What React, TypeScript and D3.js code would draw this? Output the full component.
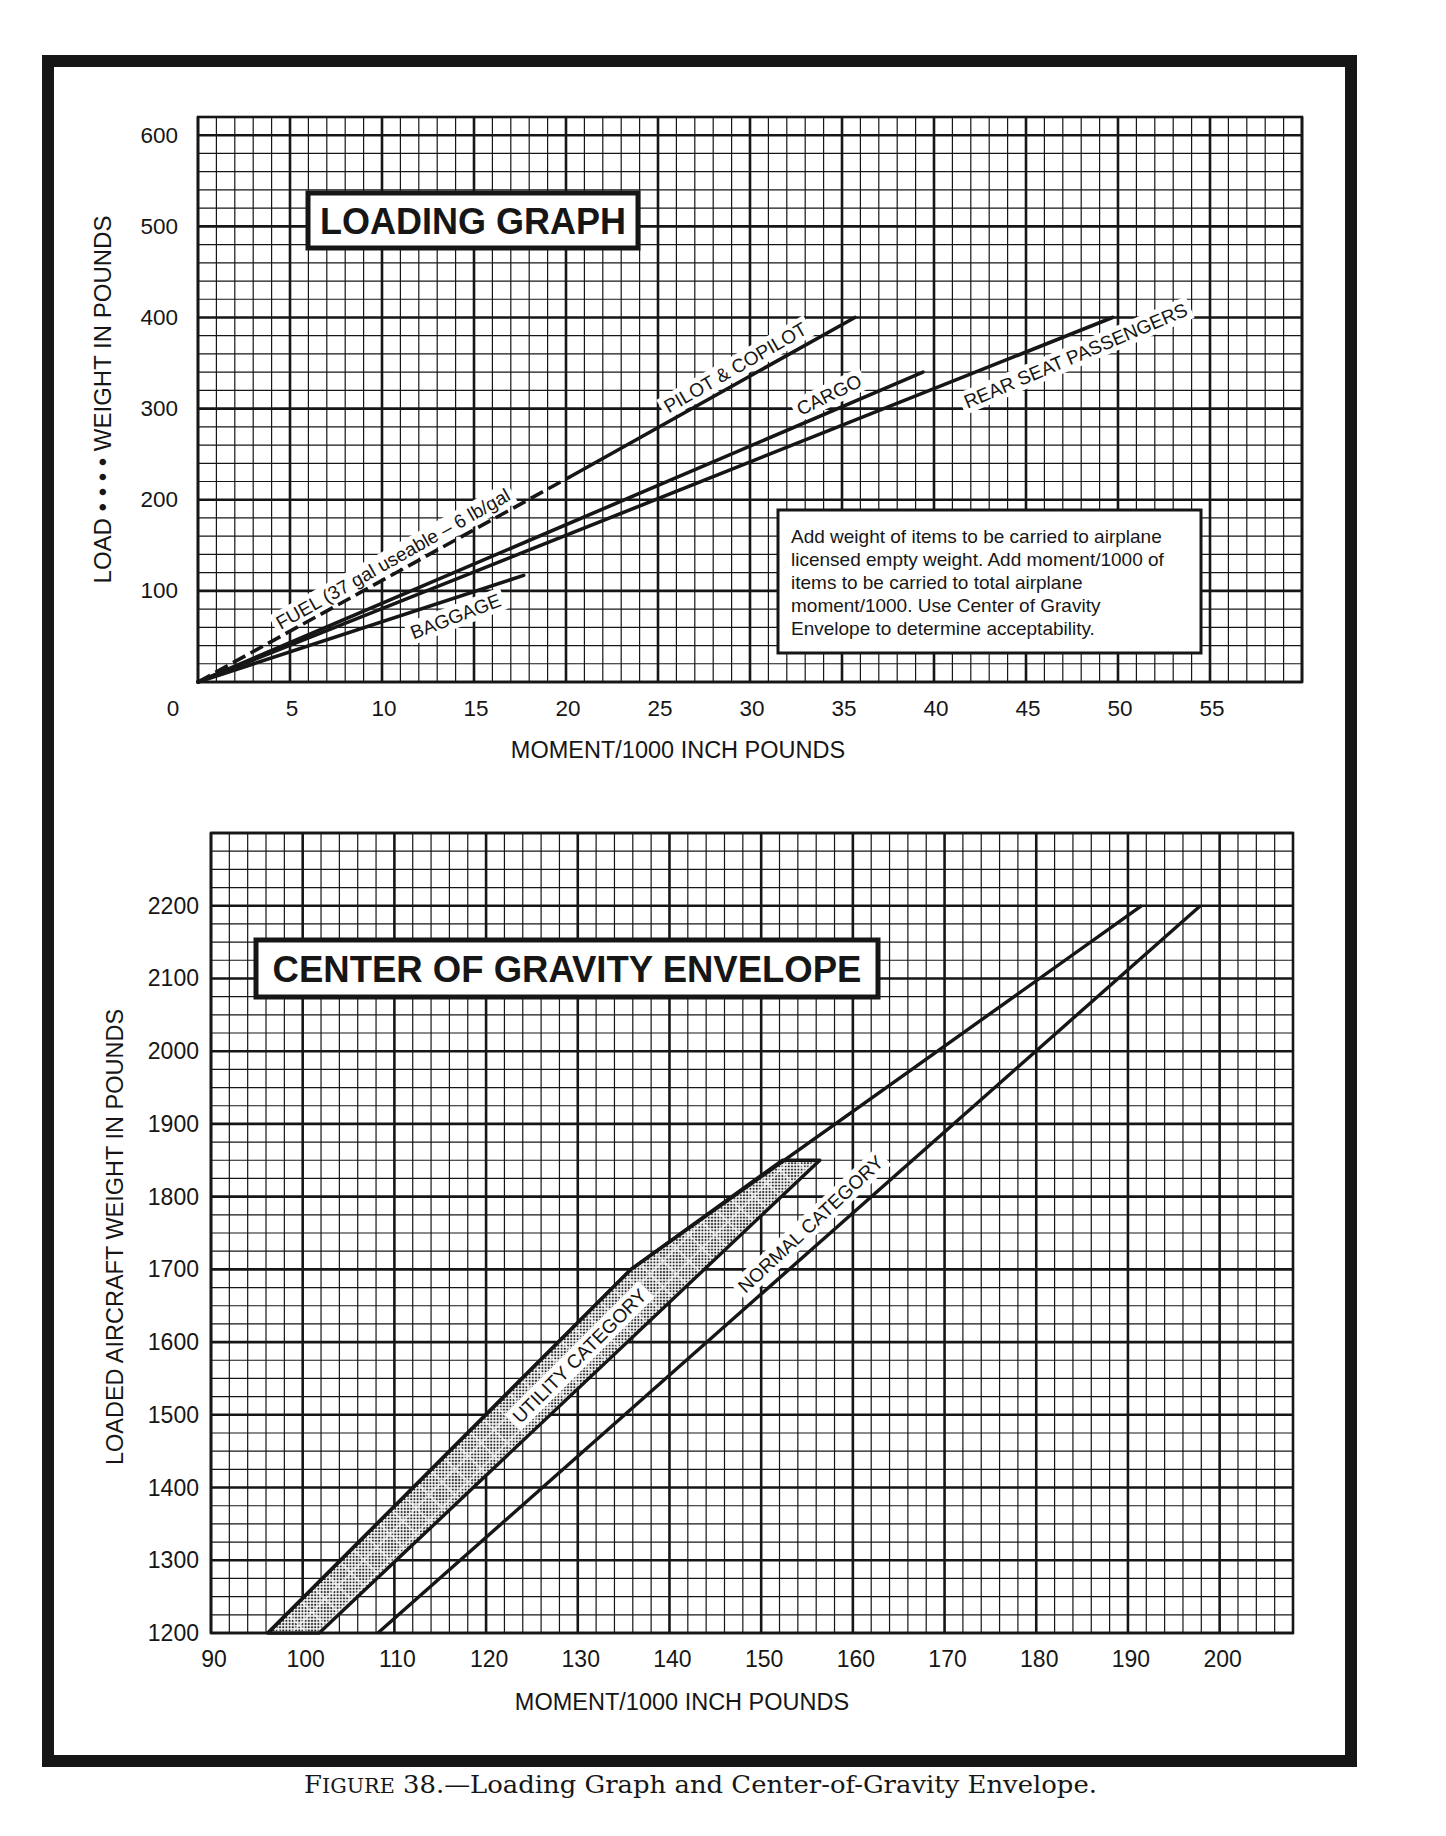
import { useLayoutEffect, useRef, useState } from "react";
import * as d3 from "d3";

// ---- Loading graph data (moment/1000 in-lb, weight lb) ----
const loadTicksX = [0, 5, 10, 15, 20, 25, 30, 35, 40, 45, 50, 55];
const loadTicksY = [100, 200, 300, 400, 500, 600];
const fuelLine: [number, number][] = [[0, 0], [20.2, 225]];
const pilotLine: [number, number][] = [[20.2, 225], [35.7, 400]];
const cargoLine: [number, number][] = [[0, 0], [39.4, 340]];
const rearSeatLine: [number, number][] = [[0, 0], [49.7, 400]];
const baggageLine: [number, number][] = [[0, 0], [17.7, 117]];

// ---- CG envelope data ----
const cgTicksX = [90, 100, 110, 120, 130, 140, 150, 160, 170, 180, 190, 200];
const cgTicksY = [1200, 1300, 1400, 1500, 1600, 1700, 1800, 1900, 2000, 2100, 2200];
const forwardLimit: [number, number][] = [[96.2, 1200], [135.8, 1700], [191.5, 2200]];
const normalAftLimit: [number, number][] = [[108.2, 1200], [197.9, 2200]];
const utilityEnvelope: [number, number][] = [
  [96.2, 1200], [135.8, 1700], [152.3, 1850], [156.4, 1850], [101.8, 1200],
];

const infoLines = [
  "Add weight of items to be carried to airplane",
  "licensed empty weight. Add moment/1000 of",
  "items to be carried to total airplane",
  "moment/1000. Use Center of Gravity",
  "Envelope to determine acceptability.",
];

const SANS = "'Liberation Sans', Arial, Helvetica, sans-serif";
const INK = "#161616";

const lx = d3.scaleLinear().domain([0, 60]).range([198, 1302]);
const ly = d3.scaleLinear().domain([0, 620]).range([682, 117]);
const cx = d3.scaleLinear().domain([90, 208]).range([211, 1293]);
const cy = d3.scaleLinear().domain([1200, 2300]).range([1633, 833]);

type Scale = d3.ScaleLinear<number, number>;

function Grid({ x, y, xStep, xMajor, yStep, yMajor }: {
  x: Scale; y: Scale; xStep: number; xMajor: number; yStep: number; yMajor: number;
}) {
  const [x0, x1] = x.domain();
  const [y0, y1] = y.domain();
  const xs = d3.range(x0, x1 + 1e-6, xStep);
  const ys = d3.range(y0, y1 + 1e-6, yStep);
  const isMajor = (v: number, m: number) => Math.abs(v / m - Math.round(v / m)) < 1e-6;
  return (
    <g>
      {xs.map(v => (
        <line key={"x" + v} x1={x(v)} x2={x(v)} y1={y(y0)} y2={y(y1)}
          stroke={INK} strokeWidth={isMajor(v, xMajor) ? 2.6 : 1.2} />
      ))}
      {ys.map(v => (
        <line key={"y" + v} x1={x(x0)} x2={x(x1)} y1={y(v)} y2={y(v)}
          stroke={INK} strokeWidth={isMajor(v, yMajor) ? 2.6 : 1.2} />
      ))}
      <rect x={x(x0)} y={y(y1)} width={x(x1) - x(x0)} height={y(y0) - y(y1)}
        fill="none" stroke={INK} strokeWidth={2.6} />
    </g>
  );
}

function Tag({ x, y, angle, text, size = 19 }: {
  x: number; y: number; angle: number; text: string; size?: number;
}) {
  const ref = useRef<SVGTextElement | null>(null);
  const [box, setBox] = useState<DOMRect | null>(null);
  useLayoutEffect(() => {
    if (ref.current) setBox(ref.current.getBBox());
  }, [text]);
  return (
    <g transform={`translate(${x},${y}) rotate(${-angle})`}>
      {box && (
        <rect x={box.x - 4} y={box.y - 1} width={box.width + 8} height={box.height + 2} fill="white" />
      )}
      <text ref={ref} textAnchor="middle" dominantBaseline="central"
        fontFamily={SANS} fontSize={size} fill={INK}>{text}</text>
    </g>
  );
}

function TitleBox({ x0, y0, x1, y1, text, size }: {
  x0: number; y0: number; x1: number; y1: number; text: string; size: number;
}) {
  return (
    <g>
      <rect x={x0} y={y0} width={x1 - x0} height={y1 - y0} fill="white" stroke={INK} strokeWidth={5} />
      <text x={(x0 + x1) / 2} y={(y0 + y1) / 2 + 1} textAnchor="middle" dominantBaseline="central"
        fontFamily={SANS} fontWeight="bold" fontSize={size} fill={INK}>{text}</text>
    </g>
  );
}

export default function App() {
  const loadPath = d3.line<[number, number]>().x(d => lx(d[0])).y(d => ly(d[1]));
  const cgPath = d3.line<[number, number]>().x(d => cx(d[0])).y(d => cy(d[1]));
  const envelopeD = (cgPath(utilityEnvelope) ?? "") + "Z";

  return (
    <svg width={1446} height={1836} style={{ position: "absolute", left: 0, top: 0, background: "white" }}>
      <defs>
        <pattern id="stipple" width={3.2} height={3.2} patternUnits="userSpaceOnUse">
          <rect width={3.2} height={3.2} fill="#f4f4f4" />
          <circle cx={1.6} cy={1.6} r={1.05} fill="#262626" />
        </pattern>
        <pattern id="cross" width={26} height={26} patternUnits="userSpaceOnUse">
          <path d="M0,0 L26,26 M26,0 L0,26" stroke="white" strokeOpacity={0.55} strokeWidth={2} />
        </pattern>
      </defs>
      <rect width={1446} height={1836} fill="white" />

      {/* outer frame */}
      <rect x={48} y={61} width={1303} height={1700} fill="none" stroke={INK} strokeWidth={12} />

      {/* ===== LOADING GRAPH ===== */}
      <Grid x={lx} y={ly} xStep={1} xMajor={5} yStep={20} yMajor={100} />

      {loadTicksY.map(v => (
        <text key={v} x={178} y={ly(v)} textAnchor="end" dominantBaseline="central"
          fontFamily={SANS} fontSize={22.5} fill={INK}>{v}</text>
      ))}
      {loadTicksX.map(v => (
        <text key={v} x={v === 0 ? lx(v) - 25 : lx(v) + 2} y={708} textAnchor="middle" dominantBaseline="central"
          fontFamily={SANS} fontSize={22.5} fill={INK}>{v}</text>
      ))}
      <text x={678} y={750} textAnchor="middle" dominantBaseline="central"
        fontFamily={SANS} fontSize={23.5} fill={INK}>MOMENT/1000 INCH POUNDS</text>
      <text transform={`translate(102,${(ly(0) + ly(620)) / 2}) rotate(-90)`} textAnchor="middle"
        dominantBaseline="central" fontFamily={SANS} fontSize={24} fill={INK}>
        {"LOAD \u2022 \u2022 \u2022 \u2022 WEIGHT IN POUNDS"}
      </text>

      <Tag x={lx(29.2)} y={ly(345)} angle={30} text="PILOT & COPILOT" />
      <Tag x={lx(34.3)} y={ly(315)} angle={26} text="CARGO" />
      <Tag x={lx(47.7)} y={ly(358)} angle={23} text="REAR SEAT PASSENGERS" />
      <Tag x={lx(14.0)} y={ly(72)} angle={21} text="BAGGAGE" />
      <Tag x={lx(10.6)} y={ly(135)} angle={29.5} text="FUEL (37 gal useable – 6 lb/gal" />

      <path d={loadPath(fuelLine) ?? ""} fill="none" stroke={INK} strokeWidth={3.6} strokeDasharray="14 6" />
      {[pilotLine, cargoLine, rearSeatLine, baggageLine].map((l, i) => (
        <path key={i} d={loadPath(l) ?? ""} fill="none" stroke={INK} strokeWidth={3.6} strokeLinecap="round" />
      ))}

      <TitleBox x0={308} y0={193} x1={638} y1={248} text="LOADING GRAPH" size={36} />

      <rect x={778} y={510} width={423} height={143} fill="white" stroke={INK} strokeWidth={3} />
      {infoLines.map((t, i) => (
        <text key={i} x={791} y={543 + i * 23} fontFamily={SANS} fontSize={19} fill={INK}>{t}</text>
      ))}

      {/* ===== CENTER OF GRAVITY ENVELOPE ===== */}
      <Grid x={cx} y={cy} xStep={2} xMajor={10} yStep={25} yMajor={100} />

      {cgTicksY.map(v => (
        <text key={v} x={199} y={cy(v)} textAnchor="end" dominantBaseline="central"
          fontFamily={SANS} fontSize={23} fill={INK}>{v}</text>
      ))}
      {cgTicksX.map(v => (
        <text key={v} x={cx(v) + 3} y={1659} textAnchor="middle" dominantBaseline="central"
          fontFamily={SANS} fontSize={23} fill={INK}>{v}</text>
      ))}
      <text x={682} y={1702} textAnchor="middle" dominantBaseline="central"
        fontFamily={SANS} fontSize={23.5} fill={INK}>MOMENT/1000 INCH POUNDS</text>
      <text transform={`translate(115,${(cy(1200) + cy(2300)) / 2 + 4}) rotate(-90)`} textAnchor="middle"
        dominantBaseline="central" fontFamily={SANS} fontSize={23.5} fill={INK}>
        LOADED AIRCRAFT WEIGHT IN POUNDS
      </text>

      <path d={envelopeD} fill="url(#stipple)" stroke="none" />
      <path d={envelopeD} fill="url(#cross)" stroke="none" />
      <Tag x={cx(130.2)} y={cy(1581)} angle={45} text="UTILITY CATEGORY" />
      <Tag x={cx(155.4)} y={cy(1762)} angle={43} text="NORMAL CATEGORY" />
      <path d={envelopeD} fill="none" stroke={INK} strokeWidth={3.4} strokeLinejoin="round" />
      <path d={cgPath(forwardLimit) ?? ""} fill="none" stroke={INK} strokeWidth={3.4} strokeLinejoin="round" />
      <path d={cgPath(normalAftLimit) ?? ""} fill="none" stroke={INK} strokeWidth={3.4} />

      <TitleBox x0={256} y0={940} x1={878} y1={997} text="CENTER OF GRAVITY ENVELOPE" size={36.5} />

      {/* caption */}
      <text x={304} y={1793} fontFamily="'DejaVu Serif', 'Liberation Serif', serif" fontSize={25}
        fill={INK} textLength={793} lengthAdjust="spacingAndGlyphs">
        F<tspan fontSize={20}>IGURE</tspan> 38.—Loading Graph and Center-of-Gravity Envelope.
      </text>
    </svg>
  );
}
